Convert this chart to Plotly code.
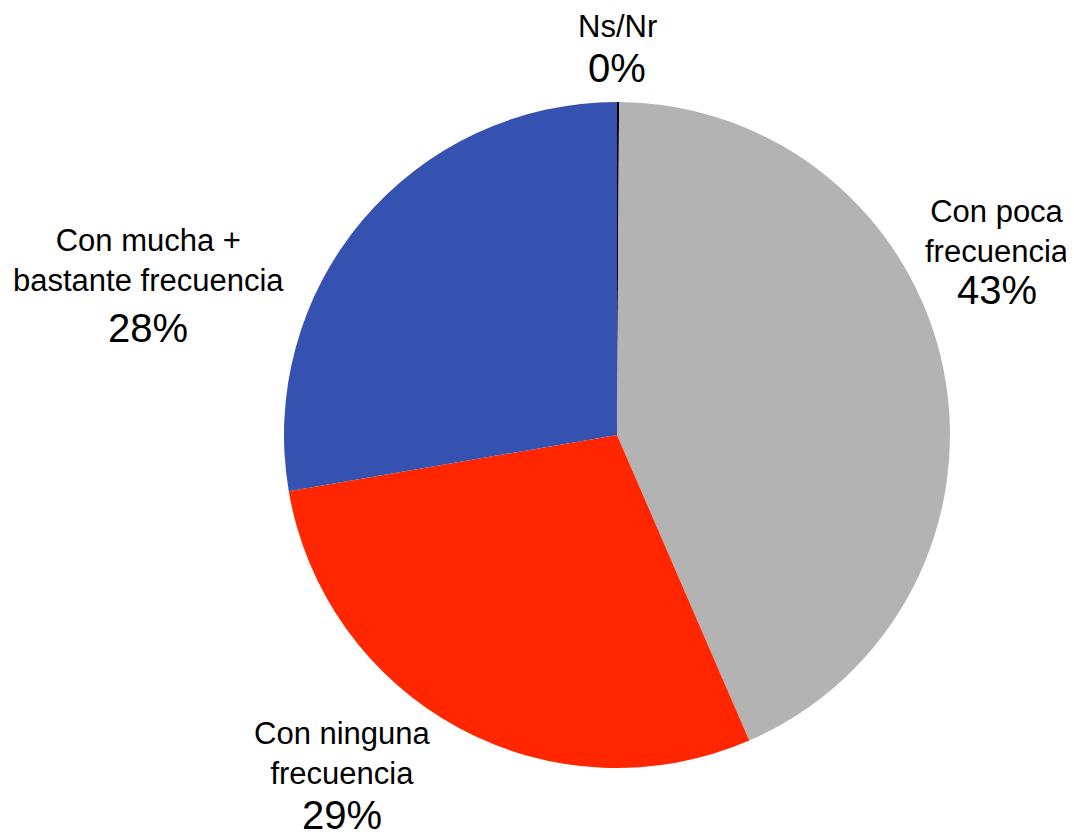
import plotly.graph_objects as go

labels = ["Ns/Nr", "Con poca frecuencia", "Con ninguna frecuencia", "Con mucha + bastante frecuencia"]
label_text = ["Ns/Nr", "Con poca<br>frecuencia", "Con ninguna<br>frecuencia", "Con mucha +<br>bastante frecuencia"]
values = [0.1, 43.4, 28.8, 27.7]
colors = ["#000000", "#B3B3B3", "#FF2600", "#3652B0"]

# page body has an 8px margin, so the figure is drawn 8px in from the window corner
OFF = 8
W, H = 1074 - OFF, 832
cx, cy, r = 617 - OFF, 435 - OFF, 333

fig = go.Figure(go.Pie(
    labels=labels, values=values, sort=False, direction="clockwise", rotation=0,
    marker=dict(colors=colors, line=dict(width=0)),
    textinfo="none", hoverinfo="label+percent", showlegend=False,
    domain=dict(x=[(cx - r) / W, (cx + r) / W], y=[1 - (cy + r) / H, 1 - (cy - r) / H]),
))

# label placement (window-pixel centers) for label block and percent
label_pos = [(617, 26), (997, 231), (342, 753), (148, 261)]
pct_pos = [(617, 68), (997, 290), (342, 815), (148, 328)]

total = sum(values)
font = "Liberation Sans, Arial, sans-serif"
for txt, v, (lx, ly), (px, py) in zip(label_text, values, label_pos, pct_pos):
    fig.add_annotation(x=(lx - OFF) / W, y=1 - (ly - OFF) / H, xref="paper", yref="paper", text=txt,
                       showarrow=False, xanchor="center", yanchor="middle",
                       font=dict(family=font, size=31, color="black"), align="center")
    fig.add_annotation(x=(px - OFF) / W, y=1 - (py - OFF) / H, xref="paper", yref="paper",
                       text=f"{round(v / total * 100)}%",
                       showarrow=False, xanchor="center", yanchor="middle",
                       font=dict(family=font, size=40, color="black"))

fig.update_layout(width=W, height=H, margin=dict(l=0, r=0, t=0, b=0),
                  paper_bgcolor="white", plot_bgcolor="white")
fig.write_html("out.html")
